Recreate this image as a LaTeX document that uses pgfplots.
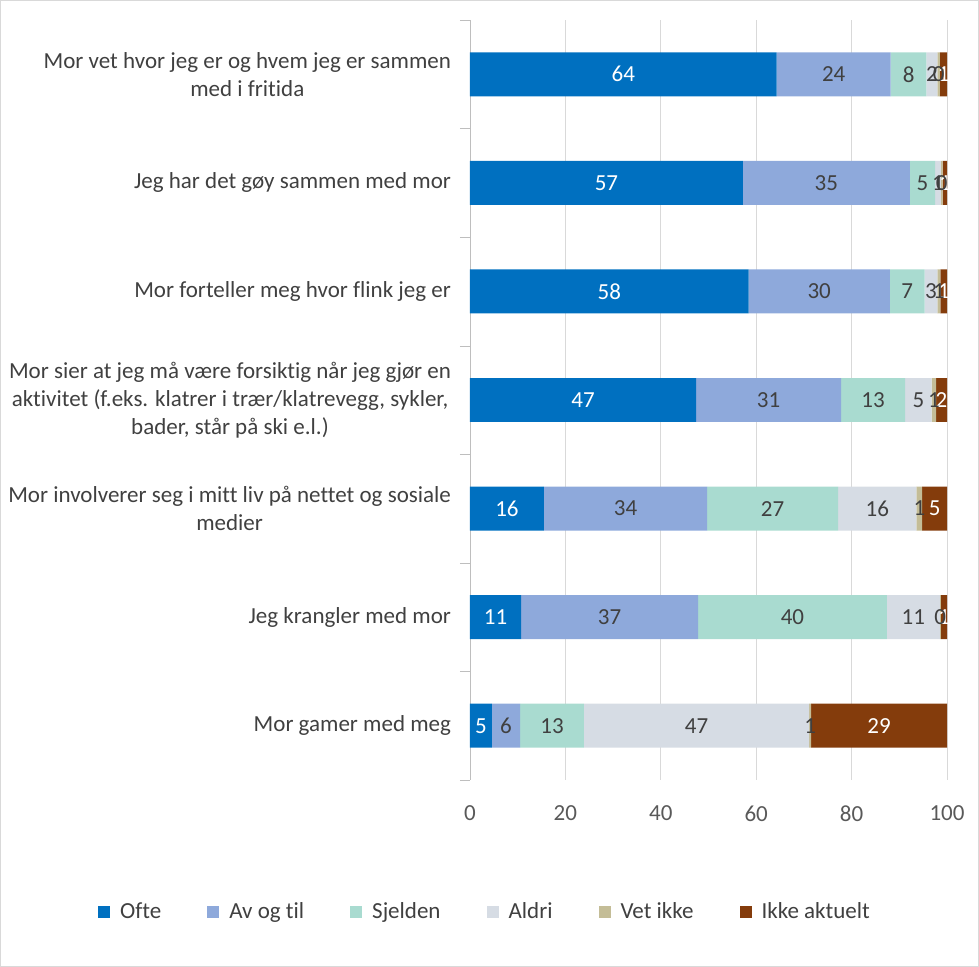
\documentclass[border=0pt]{standalone}
\usepackage{fontspec}
\setmainfont{Carlito}[Ligatures={NoCommon}]
\usepackage{pgfplots}
\usepackage{pgfplotstable}
\pgfplotsset{compat=1.18}
\definecolor{cO}{HTML}{0070C0}
\definecolor{cA}{HTML}{8EA9DB}
\definecolor{cS}{HTML}{A9DBD0}
\definecolor{cAl}{HTML}{D6DCE4}
\definecolor{cV}{HTML}{C4BD97}
\definecolor{cI}{HTML}{843C0C}
\definecolor{txt}{HTML}{404040}
\definecolor{tck}{HTML}{595959}
\definecolor{grd}{HTML}{D9D9D9}

\pgfplotstableread{
i o oL a aL s sL al alL vi viL ik ikL
6 64.3 64 23.9 24 7.5 8 2.3 2 0.5 0 1.5 1
5 57.2 57 35.0 35 5.3 5 1.2 1 0.4 0 0.9 1
4 58.4 58 29.6 30 7.3 7 2.7 3 0.6 1 1.4 1
3 47.4 47 30.4 31 13.4 13 5.6 5 0.9 1 2.3 2
2 15.5 16 34.2 34 27.5 27 16.4 16 1.2 1 5.2 5
1 10.7 11 37.1 37 39.6 40 11.1 11 0.2 0 1.3 1
0 4.6 5 5.9 6 13.4 13 47.2 47 0.4 1 28.5 29
}\data

\begin{document}
\begin{tikzpicture}[font=\fontsize{11.5}{14}\selectfont]
\path[use as bounding box] (-235pt,-93.5pt) rectangle (254.5pt,390pt);
\draw[color=grd] (-234.8pt,-93.2pt) rectangle (254pt,389.8pt);
\begin{axis}[
  at={(0,0)}, anchor=south west,
  scale only axis, width=238.5pt, height=380pt,
  xbar stacked, bar width=0.405,
  xmin=0, xmax=100, ymin=-0.5, ymax=6.5,
  axis x line*=bottom, axis y line*=left,
  x axis line style={draw=none},
  y axis line style={color=grd!70!gray},
  xtick={0,20,...,100},
  xtick style={draw=none},
  xmajorgrids, major grid style={color=grd},
  ytick={-0.5,0.5,...,6.5},
  yticklabels={,,,,,,,,},
  tick align=outside, major tick length=5pt,
  ytick style={color=grd!70!gray},
  extra y ticks={0,1,2,3,4,5,6},
  extra y tick labels={
    {Mor gamer med meg},
    {Jeg krangler med mor},
    {Mor involverer seg i mitt liv på nettet og sosiale\\medier},
    {Mor sier at jeg må være forsiktig når jeg gjør en\\aktivitet (f.eks. klatrer i trær/klatrevegg, sykler,\\bader, står på ski e.l.)},
    {Mor forteller meg hvor flink jeg er},
    {Jeg har det gøy sammen med mor},
    {Mor vet hvor jeg er og hvem jeg er sammen\\med i fritida}},
  extra y tick style={major tick length=0pt, tick style={draw=none}},
  yticklabel style={align=center, text=txt, xshift=-6pt},
  xticklabel style={text=tck, yshift=-4.5pt},
  /pgf/number format/assume math mode=true,
  point meta=explicit symbolic,
  nodes near coords,
  every node near coord/.append style={anchor=center, text=txt},
  legend columns=6,
  legend style={draw=none, at={(0.0335,-0.174)}, anchor=center, text=txt,
    /tikz/every even column/.append style={column sep=21pt},
    /tikz/every odd column/.append style={column sep=3pt}},
  legend image code/.code={\fill[#1] (0pt,-3pt) rectangle (6pt,3pt);},
]
\addplot[fill=cO, draw=none, every node near coord/.append style={text=white}] table[x=o, y=i, meta=oL]{\data};
\addplot[fill=cA, draw=none] table[x=a, y=i, meta=aL]{\data};
\addplot[fill=cS, draw=none] table[x=s, y=i, meta=sL]{\data};
\addplot[fill=cAl, draw=none] table[x=al, y=i, meta=alL]{\data};
\addplot[fill=cV, draw=none] table[x=vi, y=i, meta=viL]{\data};
\addplot[fill=cI, draw=none, every node near coord/.append style={text=white}] table[x=ik, y=i, meta=ikL]{\data};
\legend{Ofte, Av og til, Sjelden, Aldri, Vet ikke, Ikke aktuelt}
\end{axis}
\end{tikzpicture}
\end{document}
